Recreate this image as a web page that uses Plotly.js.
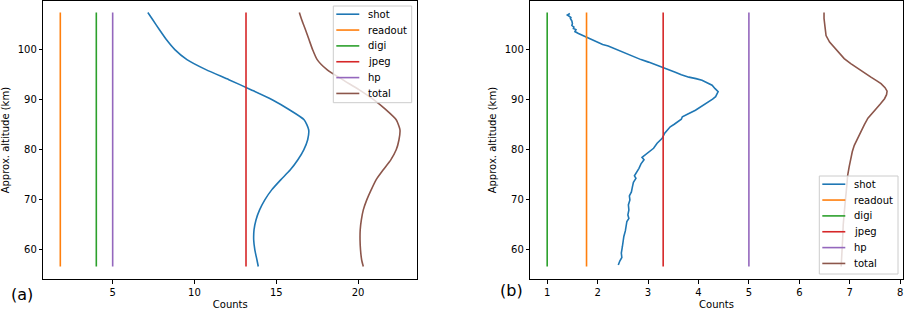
<!DOCTYPE html>
<html>
<head>
<meta charset="utf-8">
<script src="https://cdn.plot.ly/plotly-3.0.1.min.js"></script>
<style>html,body{margin:0;padding:0;background:#fff;}#chart{width:905px;height:310px;}</style>
</head>
<body>
<div id="chart"></div>
<script>
// ---------- Panel (a) data ----------
const altA = [107.4,106,104,102,100,98,96,94,92,90,88,86,84,82,80,78,76,74,72,70,68,66,64,62,60,58,56.7];
const shotA = [7.15,7.44,7.85,8.28,8.8,9.54,10.7,12.1,13.45,14.75,15.8,16.7,16.98,16.92,16.68,16.32,15.86,15.27,14.72,14.3,13.98,13.76,13.64,13.62,13.69,13.82,13.9];
const totalA = [16.41,16.55,16.78,17.0,17.22,17.5,18.1,19.05,20.05,20.95,21.7,22.33,22.56,22.5,22.33,22.0,21.54,21.1,20.8,20.53,20.32,20.2,20.13,20.12,20.15,20.22,20.32];
const readoutA = 1.8, digiA = 4.0, jpegA = 13.15, hpA = 5.0;

// ---------- Panel (b) data ----------
const altB = [107.2,106.9,106.7,106.4,106.2,105.7,105.2,104.8,104.5,104.2,104.0,103.6,103.2,102.6,102.0,101.4,101.0,100.7,100.0,99.2,98.9,98.5,98.0,97.5,97.0,96.4,95.9,95.5,95.0,94.5,94.2,93.9,93.4,92.9,92.2,91.6,91.2,90.6,90.1,89.6,88.8,87.9,87.2,86.6,86.1,85.6,85.1,84.6,84.0,83.3,82.3,81.3,80.3,79.6,79.0,78.5,78.0,77.2,76.3,75.5,74.8,74.3,73.5,72.6,71.6,70.8,70.0,69.0,68.0,67.0,66.3,65.7,64.8,63.8,62.7,61.7,60.6,59.4,58.5,57.8,57.0];
const shotB = [1.45,1.40,1.43,1.47,1.46,1.49,1.50,1.49,1.53,1.52,1.57,1.55,1.62,1.75,1.86,1.98,2.10,2.21,2.38,2.55,2.62,2.75,2.86,3.01,3.15,3.30,3.42,3.54,3.66,3.81,3.95,4.07,4.17,4.27,4.33,4.39,4.37,4.34,4.28,4.20,4.08,3.94,3.80,3.68,3.66,3.60,3.52,3.44,3.39,3.33,3.28,3.18,3.11,3.02,2.93,2.88,2.92,2.86,2.82,2.78,2.73,2.76,2.71,2.69,2.67,2.63,2.64,2.61,2.62,2.60,2.62,2.58,2.57,2.55,2.52,2.51,2.49,2.47,2.48,2.44,2.41];
const altBt = [107.4,106.2,104.5,102.8,101.5,100.5,99.3,98.2,97.2,96.2,95.3,94.5,93.8,93.2,92.4,91.7,91.0,90.2,89.2,88.2,87.2,86.3,85.0,83.6,82.2,80.9,79.6,78.3,76.7,75.0,73.3,71.6,69.6,67.6,65.0,62.4,59.5,56.7];
const totalB = [6.49,6.49,6.51,6.53,6.60,6.69,6.79,6.89,7.02,7.16,7.29,7.42,7.53,7.62,7.70,7.74,7.73,7.69,7.61,7.52,7.44,7.36,7.29,7.22,7.15,7.09,7.05,7.02,6.99,6.96,6.95,6.93,6.91,6.89,6.87,6.86,6.84,6.83];
const readoutB = 1.78, digiB = 1.0, jpegB = 3.3, hpB = 5.0;

// ---------- Tick labels ----------
const yTicks = [60,70,80,90,100];
const xTicksA = [5,10,15,20];
const xTicksB = [1,2,3,4,5,6,7,8];

const names = ['shot','readout','digi','jpeg','hp','total'];
const colors = ['#1f77b4','#ff7f0e','#2ca02c','#d62728','#9467bd','#8c564b'];
const FONT = 'DejaVu Sans, Liberation Sans, sans-serif';
const LW = 1.6;

function span(arr){ return [Math.max(...arr), Math.min(...arr)]; }

function panel(alt, shot, altT, total, consts, xa, ya, smooth){
  const ys = span(alt.concat(altT));
  const tr = [];
  tr.push({x: shot, y: alt, name: names[0], mode:'lines', line:{color:colors[0], width:LW, shape: smooth?'spline':'linear', smoothing:0.6}, xaxis:xa, yaxis:ya});
  consts.forEach((c,i)=>{
    tr.push({x:[c,c], y:ys, name:names[i+1], mode:'lines', line:{color:colors[i+1], width:LW}, xaxis:xa, yaxis:ya});
  });
  tr.push({x: total, y: altT, name: names[5], mode:'lines', line:{color:colors[5], width:LW, shape: smooth?'spline':'linear', smoothing:0.6}, xaxis:xa, yaxis:ya});
  return tr;
}

const data = [].concat(
  panel(altA, shotA, altA, totalA, [readoutA, digiA, jpegA, hpA], 'x', 'y', true),
  panel(altB, shotB, altBt, totalB, [readoutB, digiB, jpegB, hpB], 'x2', 'y2', false)
);

const W = 905, H = 310;
const px = v => v / W;          // pixel -> paper x
const py = v => 1 - v / H;      // pixel -> paper y

// legend boxes (matplotlib-style, drawn as shapes + text)
const shapes = [], annotations = [];
function legendBox(left, top, width, height){
  shapes.push({type:'rect', xref:'paper', yref:'paper', x0:px(left), x1:px(left+width), y0:py(top+height), y1:py(top),
               fillcolor:'rgba(255,255,255,0.8)', line:{color:'#cccccc', width:1}, layer:'above'});
  names.forEach((n,i)=>{
    const yc = top + 8.2 + i*15.85;
    shapes.push({type:'line', xref:'paper', yref:'paper', x0:px(left+3), x1:px(left+26), y0:py(yc), y1:py(yc),
                 line:{color:colors[i], width:LW}, layer:'above'});
    annotations.push({text:n, xref:'paper', yref:'paper', x:px(left+33), y:py(yc), xanchor:'left', yanchor:'middle',
                      showarrow:false, font:{family:FONT, size:10, color:'#000'}});
  });
}
legendBox(333.3, 6, 78.4, 96.7);
legendBox(819.3, 176, 78.7, 98);

annotations.push(
  {text:'(a)', xref:'paper', yref:'paper', x:px(21.5), y:py(294), xanchor:'center', yanchor:'middle', showarrow:false, font:{family:FONT, size:16, color:'#000'}},
  {text:'(b)', xref:'paper', yref:'paper', x:px(511.7), y:py(290), xanchor:'center', yanchor:'middle', showarrow:false, font:{family:FONT, size:16, color:'#000'}}
);

const axBase = {
  showline:true, linecolor:'#000', linewidth:1, mirror:true,
  ticks:'outside', ticklen:3.5, tickwidth:1, tickcolor:'#000',
  showgrid:false, zeroline:false, fixedrange:true,
  tickfont:{family:FONT, size:10, color:'#000'}
};
const yTitle = {text:'Approx. altitude (km)', font:{family:FONT, size:10, color:'#000'}, standoff:6};
const xTitle = {text:'Counts', font:{family:FONT, size:10, color:'#000'}, standoff:5};
const yDom = [1 - 279.3/H, 1 - 1/H];
const yRange = [54.15, 109.7];

const layout = {
  width:W, height:H,
  margin:{l:0, r:0, t:0, b:0},
  paper_bgcolor:'#fff', plot_bgcolor:'#fff',
  font:{family:FONT, size:10, color:'#000'},
  showlegend:false,
  xaxis: Object.assign({}, axBase, {domain:[px(43.3), px(417.3)], range:[0.76, 23.62], tickvals:xTicksA, ticktext:xTicksA.map(String), anchor:'y', title:xTitle}),
  yaxis: Object.assign({}, axBase, {domain:yDom, range:yRange, tickvals:yTicks, ticktext:yTicks.map(String), anchor:'x', title:yTitle}),
  xaxis2: Object.assign({}, axBase, {domain:[px(530.3), px(902.7)], range:[0.665, 8.05], tickvals:xTicksB, ticktext:xTicksB.map(String), anchor:'y2', title:xTitle}),
  yaxis2: Object.assign({}, axBase, {domain:yDom, range:yRange, tickvals:yTicks, ticktext:yTicks.map(String), anchor:'x2', title:yTitle}),
  shapes: shapes,
  annotations: annotations
};

Plotly.newPlot('chart', data, layout, {displayModeBar:false, staticPlot:true});
</script>
</body>
</html>
